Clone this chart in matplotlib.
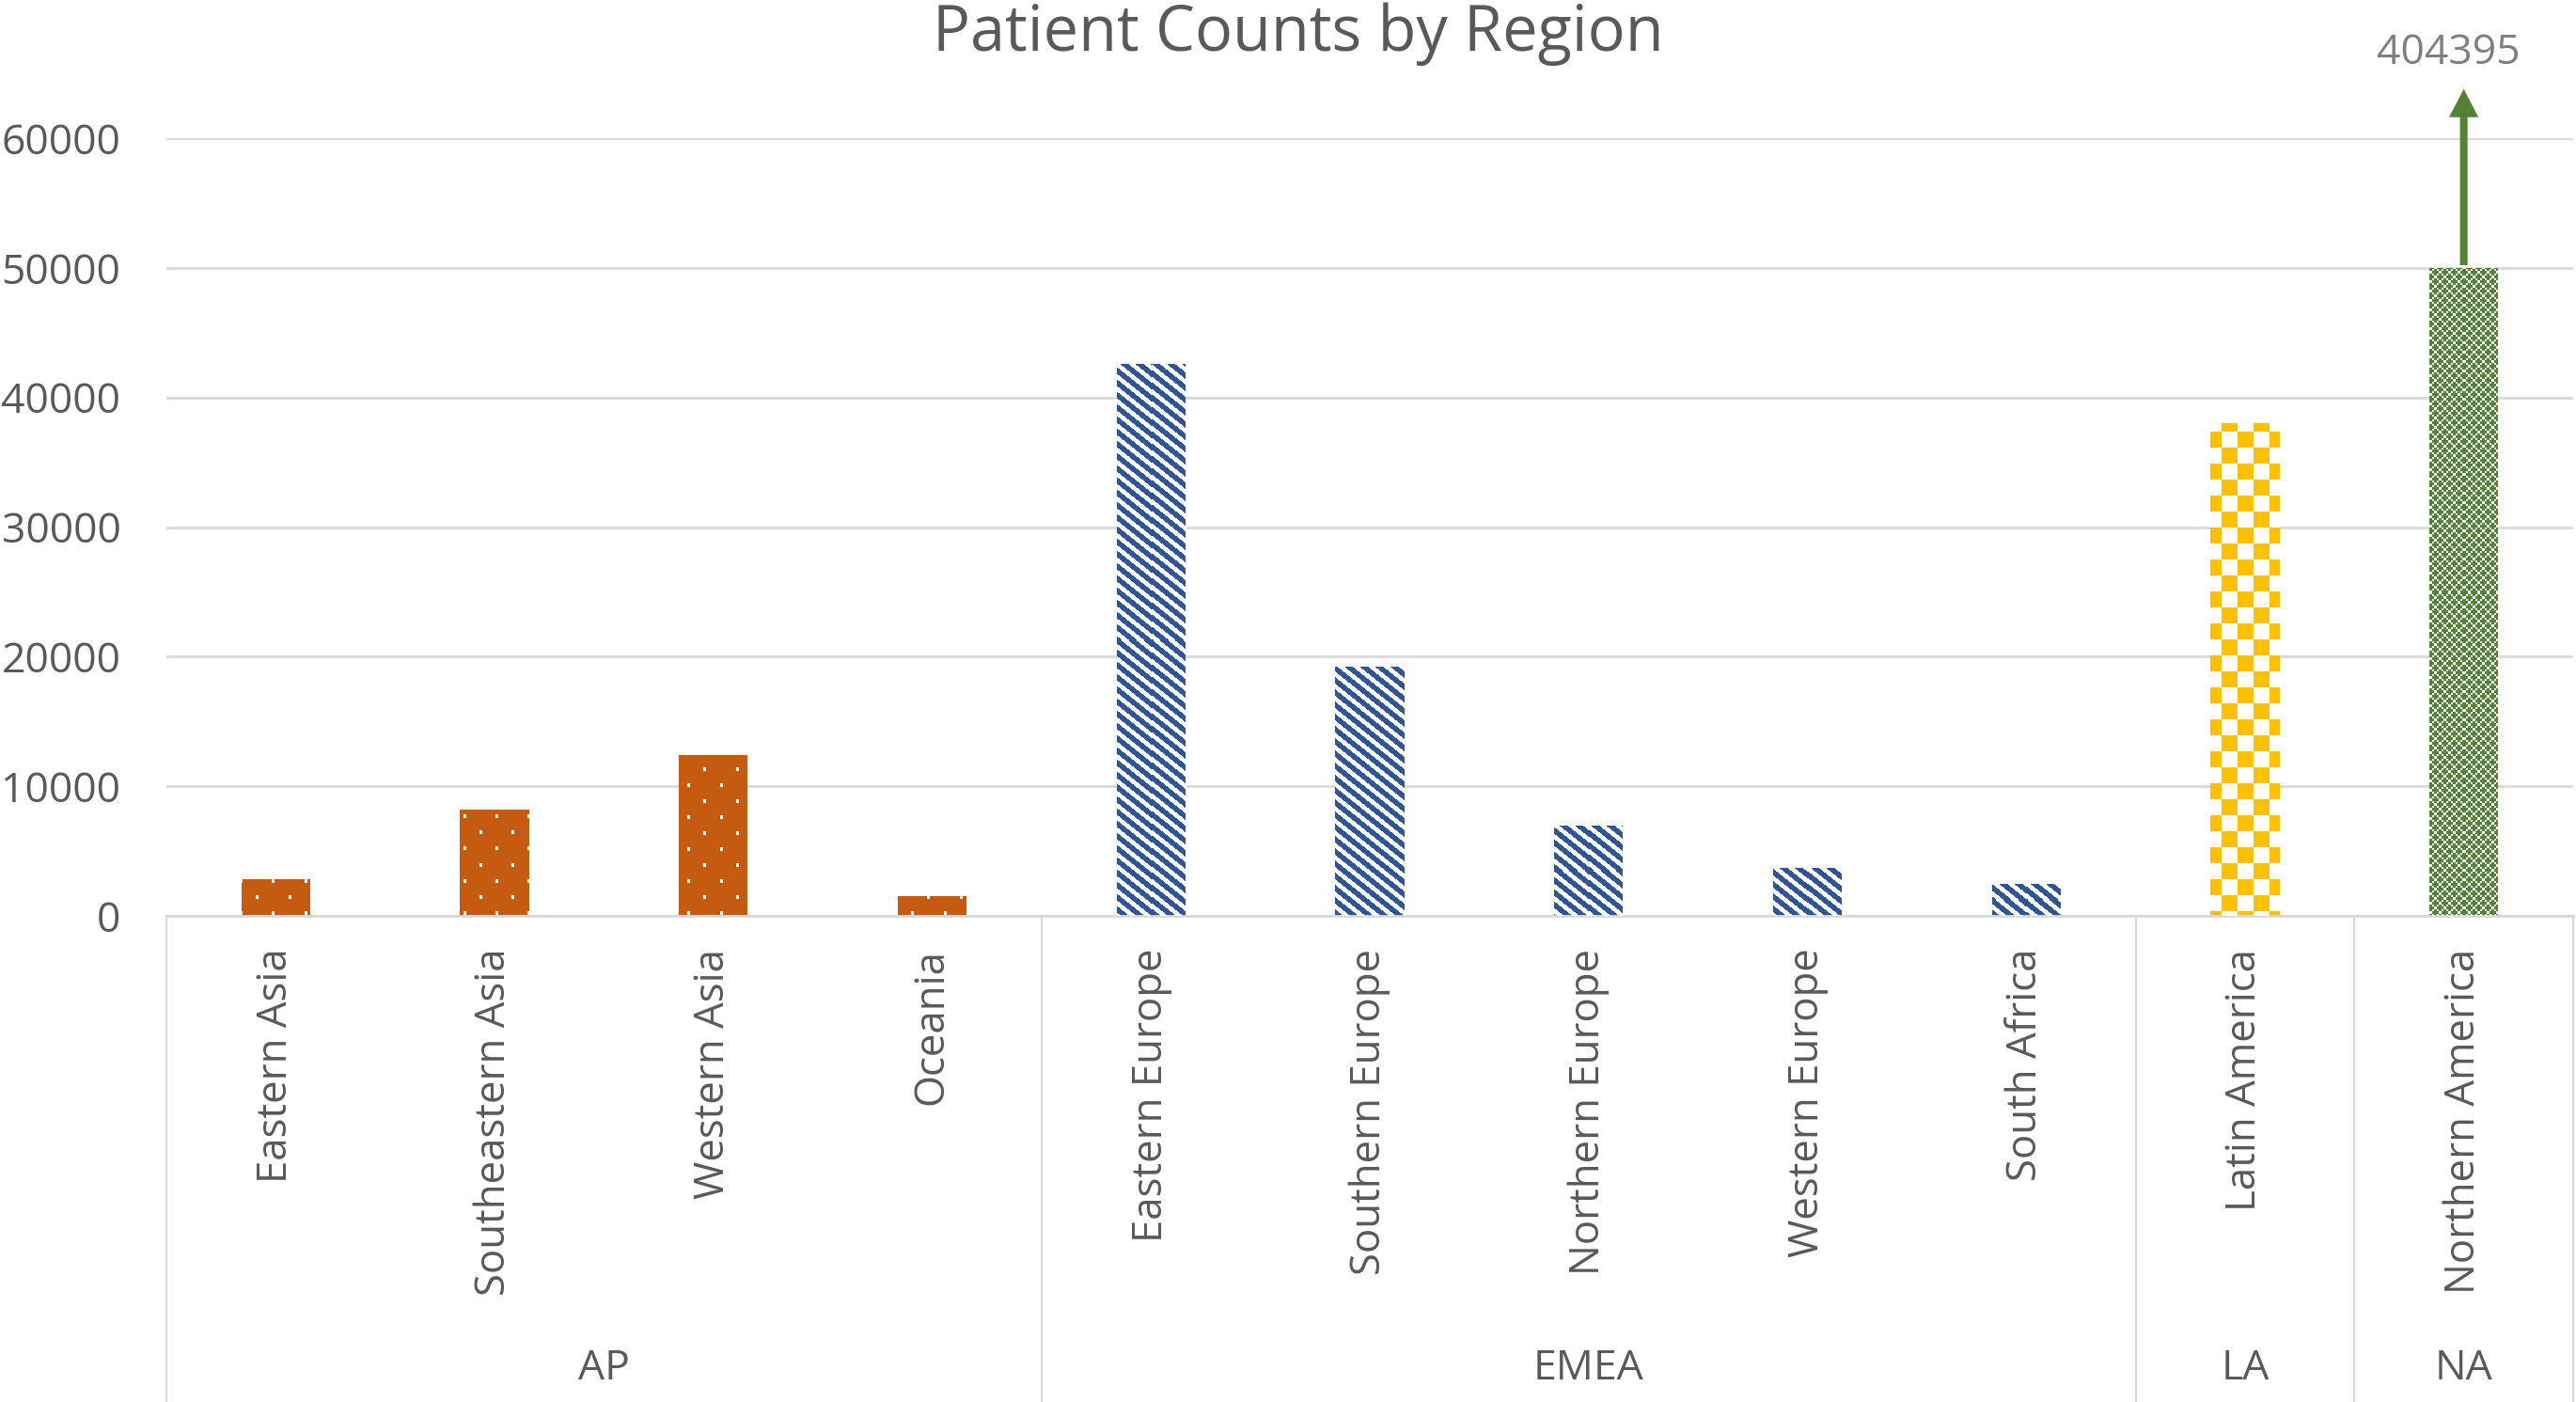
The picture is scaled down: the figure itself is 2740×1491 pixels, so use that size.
import numpy as np
import matplotlib
matplotlib.use("Agg")
import matplotlib.pyplot as plt
import matplotlib.transforms as mtransforms
from matplotlib.patches import FancyArrowPatch

plt.rcParams['font.family'] = ['Open Sans', 'DejaVu Sans']

# ---------------- data ----------------
regions = ["Eastern Asia", "Southeastern Asia", "Western Asia", "Oceania",
           "Eastern Europe", "Southern Europe", "Northern Europe", "Western Europe",
           "South Africa", "Latin America", "Northern America"]
patient_counts = [2800, 8200, 12400, 1500, 42600, 19200, 7000, 3700, 2500, 38000, 404395]
groups = ["AP", "EMEA", "LA", "NA"]
group_sizes = [4, 5, 1, 1]
axis_cap = 50000          # bars above this value are drawn truncated with an arrow
y_ticks = [0, 10000, 20000, 30000, 40000, 50000, 60000]
title = "Patient Counts by Region"

# ---------------- style ----------------
group_colors = {"AP": "#C55A11", "EMEA": "#2F5597", "LA": "#FFC000", "NA": "#548235"}
group_patterns = {"AP": "dots", "EMEA": "stripes", "LA": "checker", "NA": "plus"}
text_color = "#595959"
grid_color = "#D9D9D9"

W, H = 2740, 1491
fig = plt.figure(figsize=(W / 100, H / 100), dpi=100)
ax_left, ax_right, ax_bottom_px, ax_top_px = 177, 2737, 974, 147
ax = fig.add_axes([ax_left / W, 1 - ax_bottom_px / H,
                   (ax_right - ax_left) / W, (ax_bottom_px - ax_top_px) / H])

n = len(regions)
x = np.arange(n)
bar_groups = []
for g, s in zip(groups, group_sizes):
    bar_groups += [g] * s
colors = [group_colors[g] for g in bar_groups]
shown = np.minimum(np.array(patient_counts, dtype=float), axis_cap)

bars = ax.bar(x, shown, width=0.315, color=colors, linewidth=0, zorder=2)

ax.set_xlim(-0.5, n - 0.5)
ax.set_ylim(y_ticks[0], y_ticks[-1])
ax.set_yticks(y_ticks)
ax.set_yticklabels([str(t) for t in y_ticks])
ax.set_xticks(x)
ax.set_xticklabels(regions, rotation=90)
ax.tick_params(axis='y', length=0, pad=35, labelsize=32, labelcolor=text_color)
ax.tick_params(axis='x', length=0, pad=25, labelsize=31.5, labelcolor=text_color)
ax.grid(axis='y', color=grid_color, linewidth=2.0, zorder=0)
ax.set_axisbelow(True)
for side in ["left", "right", "top"]:
    ax.spines[side].set_visible(False)
ax.spines["bottom"].set_color(grid_color)
ax.spines["bottom"].set_linewidth(2.0)


# ---------------- pattern textures (white overlay on each bar) ----------------
def white_mask(kind, X, Y):
    if kind == "dots":
        row = np.floor(Y / 17).astype(int)
        return ((Y % 17) < 4) & (((X + (row % 2) * 17) % 34) < 3)
    if kind == "stripes":
        return ((Y - 0.8 * X) % 13) >= 7
    if kind == "checker":
        return ((np.floor(X / 17) + np.floor(Y / 17)) % 2) == 0
    if kind == "plus":
        u = X % 10
        v = Y % 10
        dx1, dy1 = np.minimum(u, 10 - u), np.minimum(v, 10 - v)
        dx2, dy2 = np.abs(u - 5), np.abs(v - 5)
        p1 = ((dx1 <= 1) & (dy1 <= 3)) | ((dy1 <= 1) & (dx1 <= 3))
        p2 = ((dx2 <= 1) & (dy2 <= 3)) | ((dy2 <= 1) & (dx2 <= 3))
        return ~(p1 | p2)
    return np.zeros_like(X, dtype=bool)


for bar, g in zip(bars, bar_groups):
    ext = bar.get_window_extent()
    x0p, x1p = int(round(ext.x0)), int(round(ext.x1))
    y0p, y1p = int(round(ext.y0)), int(round(ext.y1))
    wpx, hpx = max(x1p - x0p, 1), max(y1p - y0p, 1)
    cols = np.arange(wpx) + x0p
    rows = (H - y1p) + np.arange(hpx)
    Xg, Yg = np.meshgrid(cols, rows)
    m = white_mask(group_patterns[g], Xg, Yg)
    img = np.zeros((hpx, wpx, 4))
    img[m] = [1, 1, 1, 1]
    ax.imshow(img, extent=(bar.get_x(), bar.get_x() + bar.get_width(), 0, bar.get_height()),
              aspect='auto', interpolation='nearest', origin='upper', zorder=3)

ax.set_xlim(-0.5, n - 0.5)
ax.set_ylim(y_ticks[0], y_ticks[-1])

# ---------------- truncated bar arrow + label ----------------
for i, v in enumerate(patient_counts):
    if v > axis_cap:
        arrow_top = y_ticks[-1] + 4000
        arr = FancyArrowPatch((x[i], axis_cap), (x[i], arrow_top),
                              arrowstyle="simple,head_length=21.6,head_width=22.5,tail_width=5.8",
                              mutation_scale=1, color=group_colors[bar_groups[i]],
                              linewidth=0, clip_on=False, zorder=4)
        ax.add_patch(arr)
        ax.annotate(str(v), xy=(x[i], arrow_top), xytext=(-12, 25), textcoords='offset points',
                    ha='center', va='center', fontsize=32, color="#7F7F7F",
                    annotation_clip=False)

# ---------------- group separators and labels ----------------
sep_tr = mtransforms.blended_transform_factory(ax.transData, fig.transFigure)
bounds = np.concatenate([[0], np.cumsum(group_sizes)]) - 0.5
y_axis_fig = 1 - ax_bottom_px / H
for b in bounds:
    ax.plot([b, b], [y_axis_fig, 0], transform=sep_tr, color=grid_color,
            linewidth=1.6, clip_on=False, zorder=1)
for g, lo, hi in zip(groups, bounds[:-1], bounds[1:]):
    ax.text((lo + hi) / 2, 1 - 1456 / H, g, transform=sep_tr, ha='center', va='center',
            fontsize=32, color=text_color)

fig.text(1381 / W, 1 - 54 / H, title, ha='center', va='baseline', fontsize=48,
         color=text_color)

fig.savefig("out.png", dpi=100, facecolor="white")
